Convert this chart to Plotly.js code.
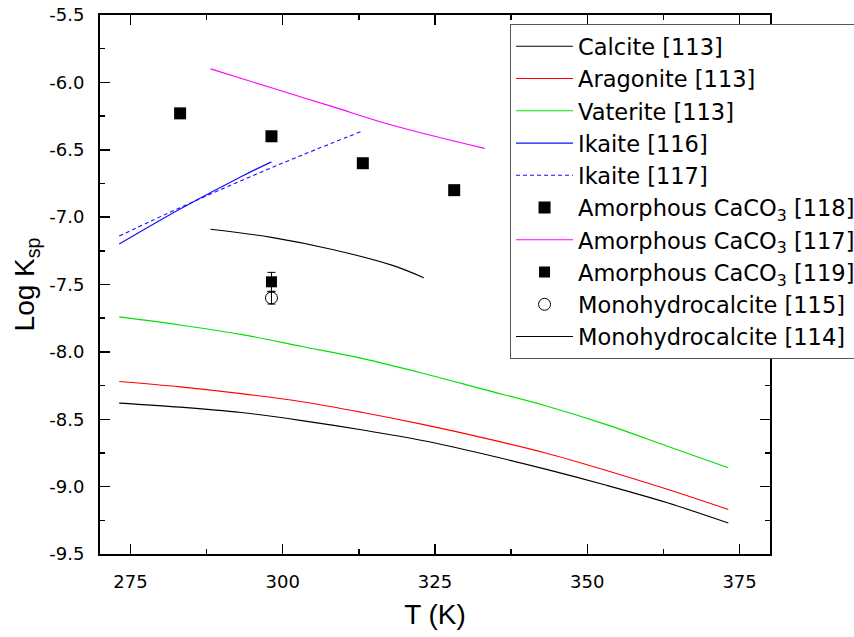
<!DOCTYPE html>
<html>
<head>
<meta charset="utf-8">
<script src="https://cdn.plot.ly/plotly-3.0.1.min.js"></script>
<style>html,body{margin:0;padding:0;background:#fff;}#chart{width:854px;height:637px;}</style>
</head>
<body>
<div id="chart"></div>
<script>
// Temperatures (K) and log Ksp values
const T_ref = [273.15, 283.15, 293.15, 303.15, 313.15, 323.15, 333.15, 343.15, 353.15, 363.15, 373.15];
const calcite113 = [-8.38, -8.41, -8.45, -8.51, -8.58, -8.66, -8.76, -8.87, -8.99, -9.12, -9.27];
const aragonite113 = [-8.22, -8.26, -8.31, -8.37, -8.45, -8.54, -8.64, -8.75, -8.88, -9.02, -9.17];
const vaterite113 = [-7.74, -7.80, -7.87, -7.96, -8.05, -8.16, -8.28, -8.40, -8.54, -8.70, -8.86];

const T_ikaite116 = [273.15, 283.15, 293.15, 298.15];
const ikaite116 = [-7.20, -6.94, -6.70, -6.59];

const T_ikaite117 = [273.15, 283.15, 293.15, 303.15, 313.15];
const ikaite117 = [-7.14, -6.93, -6.73, -6.54, -6.36];

const T_acc118 = [283.15, 298.15, 313.15, 328.15];
const acc118 = [-6.23, -6.40, -6.60, -6.80];

const T_acc117 = [288.15, 298.15, 308.15, 318.15, 333.15];
const acc117 = [-5.90, -6.04, -6.18, -6.32, -6.49];

const T_acc119 = [298.15];
const acc119 = [-7.48];
const acc119_err = [0.07];

const T_mhc115 = [298.15];
const mhc115 = [-7.60];
const mhc115_err = [0.045];

const T_mhc114 = [288.15, 298.15, 308.15, 318.15, 323.15];
const mhc114 = [-7.09, -7.15, -7.24, -7.36, -7.45];

const xTicks = [275, 300, 325, 350, 375];
const yTicks = [-9.5, -9.0, -8.5, -8.0, -7.5, -7.0, -6.5, -6.0, -5.5];

const FONT = 'Liberation Sans, Arial, sans-serif';
const WIDEFONT = 'DejaVu Sans, Liberation Sans, sans-serif';

const traces = [
  {x: T_ref, y: calcite113, mode: 'lines', name: 'Calcite [113]', line: {color: '#000000', width: 1.1, shape: 'spline'}},
  {x: T_ref, y: aragonite113, mode: 'lines', name: 'Aragonite [113]', line: {color: '#ff0000', width: 1.1, shape: 'spline'}},
  {x: T_ref, y: vaterite113, mode: 'lines', name: 'Vaterite [113]', line: {color: '#00e000', width: 1.1, shape: 'spline'}},
  {x: T_ikaite116, y: ikaite116, mode: 'lines', name: 'Ikaite [116]', line: {color: '#1010ff', width: 1.2, shape: 'spline'}},
  {x: T_ikaite117, y: ikaite117, mode: 'lines', name: 'Ikaite [117]', line: {color: '#1010ff', width: 1.1, dash: '4px,3px', shape: 'spline'}},
  {x: T_acc118, y: acc118, mode: 'markers', name: 'Amorphous CaCO<sub>3</sub> [118]', marker: {symbol: 'square', size: 12, color: '#000000'}},
  {x: T_acc117, y: acc117, mode: 'lines', name: 'Amorphous CaCO<sub>3</sub> [117]', line: {color: '#ff00ff', width: 1.1, shape: 'spline'}},
  {x: T_acc119, y: acc119, mode: 'markers', name: 'Amorphous CaCO<sub>3</sub> [119]', marker: {symbol: 'square', size: 11, color: '#000000'},
   error_y: {type: 'data', array: acc119_err, visible: true, color: '#000000', thickness: 1, width: 4}},
  {x: T_mhc115, y: mhc115, mode: 'markers', name: 'Monohydrocalcite [115]', marker: {symbol: 'circle-open', size: 12, color: '#000000', line: {width: 1}},
   error_y: {type: 'data', array: mhc115_err, visible: true, color: '#000000', thickness: 1, width: 4}},
  {x: T_mhc114, y: mhc114, mode: 'lines', name: 'Monohydrocalcite [114]', line: {color: '#000000', width: 1.1, shape: 'spline'}}
];

const layout = {
  width: 854, height: 637,
  paper_bgcolor: '#ffffff', plot_bgcolor: '#ffffff',
  font: {family: FONT, color: '#000000', size: 18},
  margin: {l: 100, r: 84, t: 15, b: 83, autoexpand: false},
  showlegend: true,
  legend: {
    x: 0.612, y: 0.983, xanchor: 'left', yanchor: 'top',
    bgcolor: '#ffffff', bordercolor: '#555555', borderwidth: 1,
    font: {family: WIDEFONT, size: 22.5, color: '#000000'},
    itemwidth: 57, tracegroupgap: 0
  },
  xaxis: {
    range: [270, 380], tickmode: 'array', tickvals: xTicks, ticktext: xTicks.map(String),
    ticks: 'inside', ticklen: 10, tickwidth: 1.5, tickcolor: '#000',
    minor: {dtick: 12.5, tick0: 275, ticks: 'inside', ticklen: 5, tickwidth: 1.5, tickcolor: '#000'},
    showline: true, linecolor: '#000', linewidth: 2, mirror: 'allticks',
    showgrid: false, zeroline: false,
    tickfont: {family: WIDEFONT, size: 18}, ticklabelstandoff: 10,
    title: {text: 'T (K)', font: {family: FONT, size: 28}, standoff: 14}
  },
  yaxis: {
    range: [-9.5, -5.5], tickmode: 'array', tickvals: yTicks, ticktext: yTicks.map(v => v.toFixed(1)),
    ticks: 'inside', ticklen: 10, tickwidth: 1.5, tickcolor: '#000',
    minor: {dtick: 0.25, tick0: -9.5, ticks: 'inside', ticklen: 5, tickwidth: 1.5, tickcolor: '#000'},
    showline: true, linecolor: '#000', linewidth: 2, mirror: 'allticks',
    showgrid: false, zeroline: false,
    tickfont: {family: WIDEFONT, size: 18}, ticklabelstandoff: 10,
    title: {text: 'Log K<sub>sp</sub>', font: {family: FONT, size: 28}, standoff: 6}
  }
};

Plotly.newPlot('chart', traces, layout, {displayModeBar: false, staticPlot: true});
</script>
</body>
</html>
